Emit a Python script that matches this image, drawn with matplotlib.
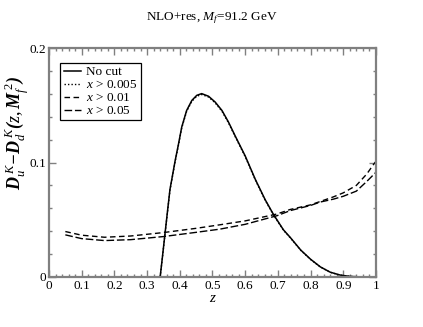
import numpy as np
import matplotlib
matplotlib.use('Agg')
import matplotlib.pyplot as plt
from matplotlib.ticker import MultipleLocator

plt.rcParams['font.family'] = ['Liberation Serif', 'DejaVu Serif']
plt.rcParams['mathtext.fontset'] = 'custom'
plt.rcParams['mathtext.rm'] = 'Liberation Serif'
plt.rcParams['mathtext.it'] = 'Liberation Serif:italic'
plt.rcParams['mathtext.bf'] = 'Liberation Serif:bold:italic'

# Sin corte (curva continua)
z_nocut = [0.340, 0.347, 0.355, 0.363, 0.370, 0.3756, 0.3857, 0.396, 0.406, 0.421,
           0.437, 0.452, 0.467, 0.488, 0.508, 0.529, 0.549, 0.569, 0.600, 0.631,
           0.661, 0.687, 0.717, 0.738, 0.77, 0.80, 0.83, 0.86, 0.89, 0.92, 0.95, 0.98, 1.0]
d_nocut = [0.0, 0.0176, 0.0383, 0.0588, 0.0765, 0.0853, 0.1014, 0.116, 0.131, 0.1455,
           0.1543, 0.1587, 0.1602, 0.1579, 0.1529, 0.1455, 0.1353, 0.1235, 0.1058, 0.0853,
           0.0676, 0.0544, 0.0412, 0.0345, 0.0235, 0.0155, 0.0088, 0.0042, 0.0017, 0.0005,
           0.0001, 0.0, 0.0]

# x > 0.005 (punteada, casi igual)
z_005 = z_nocut
d_005 = [0.0, 0.0172, 0.0378, 0.0582, 0.0758, 0.0846, 0.1006, 0.1152, 0.1302, 0.1447,
         0.1535, 0.1579, 0.1594, 0.1572, 0.1522, 0.1448, 0.1347, 0.1229, 0.1052, 0.0848,
         0.0671, 0.0540, 0.0409, 0.0342, 0.0233, 0.0153, 0.0087, 0.0041, 0.0016, 0.0005,
         0.0001, 0.0, 0.0]

# x > 0.01 y x > 0.05 (discontinuas)
z_cut = [0.05, 0.1, 0.17, 0.25, 0.35, 0.45, 0.523, 0.6, 0.697, 0.738, 0.8, 0.83,
         0.87, 0.9, 0.94, 0.972, 0.993, 1.0]
d_001 = [0.0397, 0.0365, 0.0347, 0.0358, 0.0388, 0.0425, 0.0456, 0.049, 0.0550, 0.0590,
         0.0630, 0.0660, 0.0700, 0.0735, 0.0800, 0.0900, 0.0985, 0.1010]
d_05 = [0.0368, 0.0335, 0.0318, 0.0326, 0.0353, 0.0390, 0.0418, 0.0460, 0.0535, 0.0580,
        0.0625, 0.0655, 0.0680, 0.0705, 0.0750, 0.0835, 0.0895, 0.0915]

fig = plt.figure(figsize=(4.23, 3.27), dpi=100)
ax = fig.add_axes([0.1158, 0.153, 0.773, 0.70])

ax.plot(z_nocut, d_nocut, color='black', lw=1.1, label='No cut')
ax.plot(z_005, d_005, color='black', lw=1.0, linestyle=(0, (1, 1.5)), label='$x$ > 0.005')
ax.plot(z_cut, d_001, color='black', lw=1.0, linestyle=(0, (4, 2.5)), label='$x$ > 0.01')
ax.plot(z_cut, d_05, color='black', lw=1.0, linestyle=(0, (5.5, 2)), label='$x$ > 0.05')

ax.set_xlim(0, 1)
ax.set_ylim(0, 0.2)
ax.xaxis.set_major_locator(MultipleLocator(0.1))
ax.xaxis.set_minor_locator(MultipleLocator(0.02))
ax.yaxis.set_major_locator(MultipleLocator(0.1))
ax.yaxis.set_minor_locator(MultipleLocator(0.02))
ax.xaxis.set_major_formatter(plt.FuncFormatter(lambda v, p: '%g' % round(v, 2)))
ax.yaxis.set_major_formatter(plt.FuncFormatter(lambda v, p: '%g' % round(v, 2)))
ax.tick_params(which='both', direction='in', top=True, right=True, colors='#808080',
               labelcolor='black', labelsize=9.5, pad=2)
ax.tick_params(which='major', length=5, width=1)
ax.tick_params(which='minor', length=2.5, width=1)
for s in ax.spines.values():
    s.set_color('#808080')
    s.set_linewidth(1.6)

ax.set_xlabel('$z$', fontsize=11, labelpad=0)
ax.set_ylabel(r'$\mathbf{D}_{u}^{\ K}\mathbf{-D}_{d}^{\ K}\mathbf{(}z,\mathbf{M}_{f}^{\ 2}\mathbf{)}$',
              fontsize=13)
ax.yaxis.set_label_coords(-0.055, 0.63)
fig.text(0.5, 0.945, 'NLO+res, $M_f$=91.2 GeV', ha='center', va='center', fontsize=9.5)

leg = ax.legend(loc='upper left', bbox_to_anchor=(0.035, 0.935), fontsize=9.5,
                handlelength=1.3, handletextpad=0.4, labelspacing=0.05,
                borderpad=0.25, borderaxespad=0, fancybox=False, framealpha=1)
leg.get_frame().set_edgecolor('black')
leg.get_frame().set_linewidth(0.9)

fig.savefig('out.png', dpi=100)
